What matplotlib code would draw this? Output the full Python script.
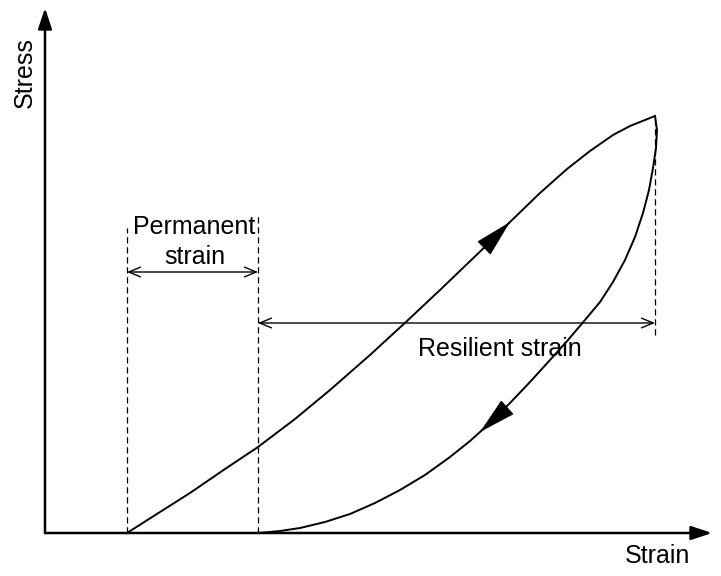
import numpy as np
import matplotlib
matplotlib.use("Agg")
import matplotlib.pyplot as plt

plt.rcParams['font.family'] = ['Liberation Sans', 'DejaVu Sans']

# loading branch (strain, stress)
load_strain = [82, 115, 145, 180, 213, 250, 285, 325, 362, 395, 420, 445, 465,
               495, 522, 545, 568, 585, 600, 610]
load_stress = [0, 21, 40, 64, 86, 114, 143, 178, 212, 243, 267, 291, 311,
               340, 364, 382, 398, 407, 413, 417]

# unloading branch
unload_strain = [610, 612, 611, 608, 604, 598, 590, 580, 568, 555, 540, 523, 505, 485,
                 465, 445, 435, 425, 405, 380, 355, 330, 305, 280, 255, 235, 213]
unload_stress = [417, 403, 385, 365, 343, 320, 296, 273, 251, 231, 213, 193, 173, 151,
                 130, 110, 101, 92, 76, 58, 43, 30, 19, 11, 5, 2, 0]

# strain marks
perm_start = 82
perm_end = 213
peak_strain = 610
peak_stress = 417
perm_arrow_y = 261
resil_arrow_y = 210

fig = plt.figure(figsize=(7.21, 5.76), dpi=100)
ax = fig.add_axes([0, 0, 1, 1])
ax.set_xlim(-45, 676)
ax.set_ylim(-43, 533)
ax.axis('off')

# axes with arrow heads
axis_arrow = dict(arrowstyle='-|>,head_length=0.9,head_width=0.3', lw=1.8,
                  color='k', shrinkA=0, shrinkB=0, mutation_scale=14)
ax.annotate('', xy=(667, 0), xytext=(0, 0), arrowprops=axis_arrow)
ax.annotate('', xy=(0, 525), xytext=(0, 0), arrowprops=axis_arrow)
ax.text(-20, 460, 'Stress', rotation=90, ha='center', va='center', fontsize=18)
ax.text(645, -30, 'Strain', ha='right', va='baseline', fontsize=18)

# curves
ax.plot(load_strain, load_stress, color='k', lw=1.4, solid_joinstyle='round')
ax.plot(unload_strain, unload_stress, color='k', lw=1.4, solid_joinstyle='round')

# direction arrows along the curves (head only, pointing along the segment)
def curve_arrow(xs, ys, i_tip):
    tip = np.array([xs[i_tip], ys[i_tip]], dtype=float)
    prev = np.array([xs[i_tip - 1], ys[i_tip - 1]], dtype=float)
    tail = tip - 0.05 * (tip - prev)
    ax.annotate('', xy=tuple(tip), xytext=tuple(tail),
                arrowprops=dict(arrowstyle='-|>,head_length=1.2,head_width=0.3',
                                lw=1.0, color='k', shrinkA=0, shrinkB=0,
                                mutation_scale=20))

curve_arrow(load_strain, load_stress, 12)
curve_arrow(unload_strain, unload_stress, 16)

# dashed guides
dash = (0, (5, 3))
ax.plot([perm_start, perm_start], [0, 305], color='k', lw=0.9, ls=dash)
ax.plot([perm_end, perm_end], [0, 320], color='k', lw=0.9, ls=dash)
ax.plot([peak_strain, peak_strain], [198, peak_stress], color='k', lw=0.9, ls=dash)

# dimension arrows
dim = dict(arrowstyle='<->,head_length=0.6,head_width=0.25', lw=1.0, color='k',
           shrinkA=0, shrinkB=0, mutation_scale=14)
ax.annotate('', xy=(perm_end, perm_arrow_y), xytext=(perm_start, perm_arrow_y), arrowprops=dim)
ax.annotate('', xy=(peak_strain, resil_arrow_y), xytext=(perm_end, resil_arrow_y), arrowprops=dim)

mid_perm = (perm_start + perm_end) / 2
ax.text(mid_perm + 2, 299, 'Permanent', ha='center', va='baseline', fontsize=18)
ax.text(mid_perm + 2, 269, 'strain', ha='center', va='baseline', fontsize=18)
ax.text(455, 177, 'Resilient strain', ha='center', va='baseline', fontsize=18)

fig.savefig('out.png', dpi=100, facecolor='white')
